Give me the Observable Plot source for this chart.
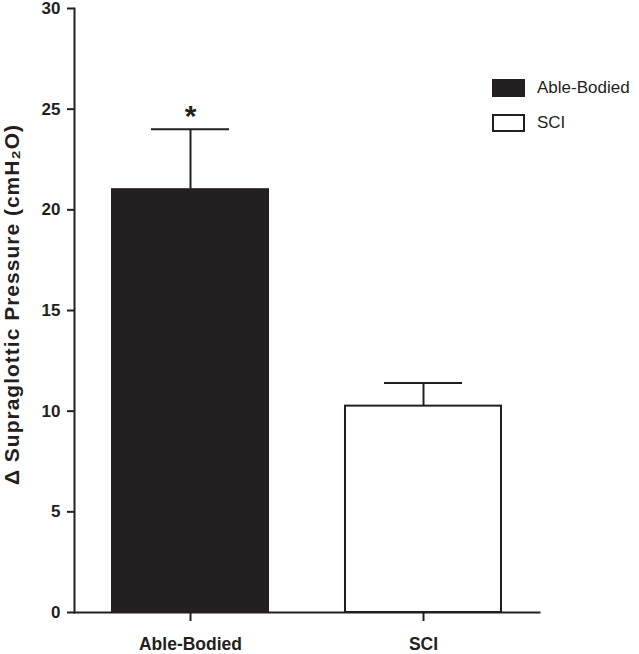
<!DOCTYPE html>
<html>
<head>
<meta charset="utf-8">
<script src="https://cdn.jsdelivr.net/npm/d3@7"></script>
<script src="https://cdn.jsdelivr.net/npm/@observablehq/plot@0.6"></script>
<style>
  html, body { margin: 0; padding: 0; background: #fff; }
  #wrap { position: relative; width: 639px; height: 654px; font-family: "Liberation Sans", Arial, sans-serif; color: #231f20; }
  #legend { position: absolute; left: 492px; top: 79px; }
  .item { display: flex; align-items: center; height: 18px; margin-top: 17px; }
  .item:first-child { margin-top: 0; }
  .sw { width: 33px; height: 18px; box-sizing: border-box; border: 2px solid #231f20; margin-right: 12px; flex: none; }
  .lab { font-size: 17px; line-height: 18px; white-space: nowrap; }
</style>
</head>
<body>
<div id="wrap"></div>
<script>
const categories = ["Able-Bodied", "SCI"];
const means = [21, 10.25];
const sems = [3, 1.15];
const significance = ["*", ""];
const yTicks = [0, 5, 10, 15, 20, 25, 30];
const fills = ["#231f20", "#ffffff"];
const yLabel = "\u0394 Supraglottic Pressure (cmH\u2082O)";

const data = categories.map((c, i) => ({ group: c, mean: means[i], top: means[i] + sems[i], sig: significance[i] }));
const ink = "#231f20";

const chart = Plot.plot({
  width: 639,
  height: 654,
  marginLeft: 74,
  marginRight: 100,
  marginTop: 8,
  marginBottom: 42,
  style: { fontFamily: "'Liberation Sans', Arial, sans-serif", color: ink, background: "white" },
  x: { domain: categories, paddingInner: 0.332, paddingOuter: 0.163, label: null },
  y: { domain: [0, 30], ticks: yTicks, label: null },
  color: { domain: categories, range: fills },
  marks: [
    Plot.barY(data, { x: "group", y: "mean", fill: "group", stroke: ink, strokeWidth: 2 }),
    Plot.ruleX(data, { x: "group", y1: "mean", y2: "top", stroke: ink, strokeWidth: 2 }),
    Plot.tickY(data, { x: "group", y: "top", stroke: ink, strokeWidth: 2, insetLeft: 39, insetRight: 39 }),
    Plot.text(data, { x: "group", y: "top", text: "sig", dy: -13, fontSize: 30, fontWeight: "bold", fill: ink }),
    Plot.frame({ anchor: "left", stroke: ink, strokeWidth: 2 }),
    Plot.frame({ anchor: "bottom", stroke: ink, strokeWidth: 2 }),
    Plot.axisY({ ticks: yTicks, tickSize: 7, tickPadding: 7, tickFormat: d => d, fontSize: 17, fontWeight: "bold", stroke: ink, strokeWidth: 2, label: null }),
    Plot.axisX({ tickSize: 9, tickPadding: 16, fontSize: 17.5, fontWeight: "bold", stroke: ink, strokeWidth: 2, label: null }),
    Plot.text([yLabel], { frameAnchor: "left", textAnchor: "middle", rotate: -90, dx: -62, dy: -6, fontSize: 21, fontWeight: "bold", fill: ink })
  ]
});
const wrap = document.getElementById("wrap");
wrap.appendChild(chart);
d3.select(chart).selectAll("text").filter(function () { return this.textContent === yLabel; }).style("letter-spacing", "1px");

const legend = document.createElement("div");
legend.id = "legend";
categories.forEach((c, i) => {
  const item = document.createElement("div");
  item.className = "item";
  const sw = document.createElement("div");
  sw.className = "sw";
  sw.style.background = fills[i];
  const lab = document.createElement("span");
  lab.className = "lab";
  lab.textContent = c;
  item.appendChild(sw);
  item.appendChild(lab);
  legend.appendChild(item);
});
wrap.appendChild(legend);
</script>
</body>
</html>
